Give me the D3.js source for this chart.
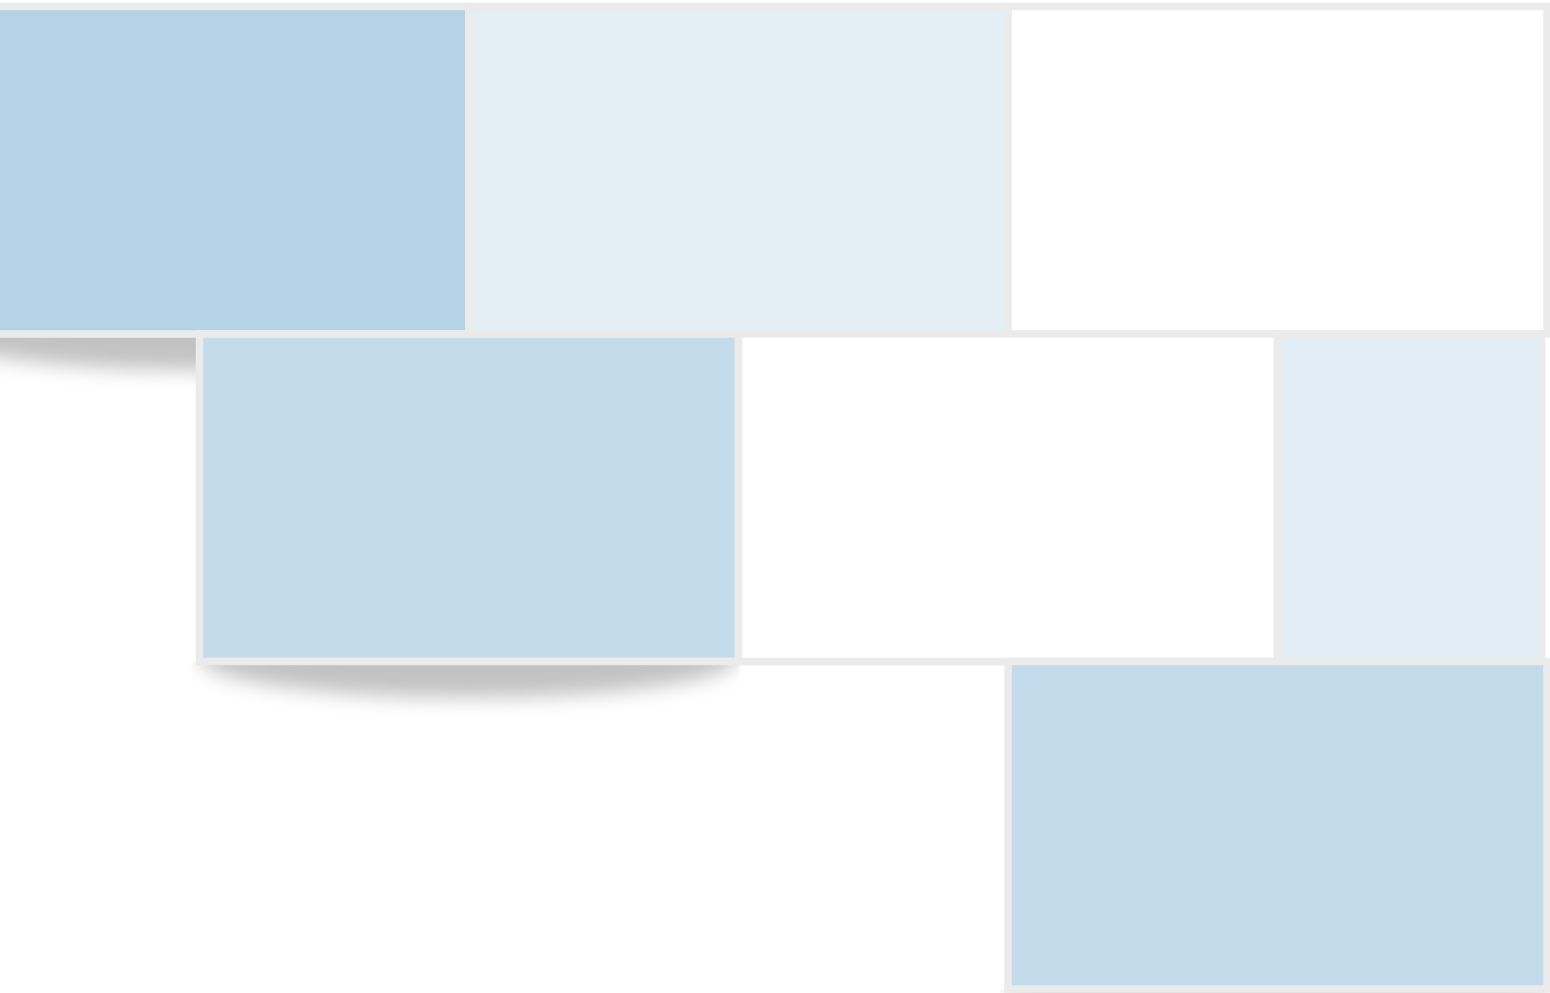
<!DOCTYPE html>
<html>
<head>
<meta charset="utf-8">
<script src="https://cdn.jsdelivr.net/npm/d3@7"></script>
<style>
  html, body { margin: 0; padding: 0; background: #fff; overflow: hidden; }
  svg { display: block; }
</style>
</head>
<body>
<svg id="chart" width="1550" height="993"></svg>
<script>
// one entry per brick: row, start (in brick widths), span, value
var brickRows = [0, 0, 0, 1, 1, 1, 2];
var brickStarts = [0, 1, 2, 0.5, 1.5, 2.5, 2];
var brickSpans = [1, 1, 1, 1, 1, 0.49, 1];
var brickValues = [100, 38, 0, 81, 0, 42, 81];
var liftThreshold = 80;

var svg = d3.select('#chart');

var x = d3.scaleLinear().domain([0, 3]).range([-70, 1547]);
var y = d3.scaleLinear().domain([0, 3]).range([6.5, 989]);
var color = d3.scaleLinear().domain([0, 100]).range(['#ffffff', '#b5d3e5']);

var bricks = brickRows.map(function(r, i) {
  return {row: r, start: brickStarts[i], span: brickSpans[i], value: brickValues[i]};
});

var defs = svg.append('defs');
defs.append('filter')
    .attr('id', 'blur')
    .attr('x', '-20%').attr('y', '-100%')
    .attr('width', '140%').attr('height', '300%')
  .append('feGaussianBlur')
    .attr('stdDeviation', 10);

function brickX0(d) { return x(d.start); }
function brickX1(d) { return x(d.start + d.span); }

// curled-paper shadows under the strongest bricks
var lifted = bricks.filter(function(d) { return d.value >= liftThreshold; });

lifted.forEach(function(d, i) {
  var x0 = brickX0(d), x1 = brickX1(d), bottom = y(d.row + 1);
  defs.append('clipPath')
      .attr('id', 'shadowClip' + i)
    .append('rect')
      .attr('x', x0 - 8)
      .attr('y', bottom)
      .attr('width', x1 - x0 + 9)
      .attr('height', 80);
  svg.append('g')
      .attr('clip-path', 'url(#shadowClip' + i + ')')
    .append('ellipse')
      .attr('cx', (x0 + x1) / 2)
      .attr('cy', bottom - 4)
      .attr('rx', (x1 - x0) / 2)
      .attr('ry', 40)
      .attr('fill', '#000')
      .attr('fill-opacity', 0.24)
      .attr('filter', 'url(#blur)');
});

svg.append('g')
  .selectAll('rect')
  .data(bricks)
  .join('rect')
    .attr('x', brickX0)
    .attr('y', function(d) { return y(d.row); })
    .attr('width', function(d) { return brickX1(d) - brickX0(d); })
    .attr('height', function(d) { return y(d.row + 1) - y(d.row); })
    .attr('fill', function(d) { return color(d.value); })
    .attr('stroke', '#ebebeb')
    .attr('stroke-width', 7.5);
</script>
</body>
</html>
